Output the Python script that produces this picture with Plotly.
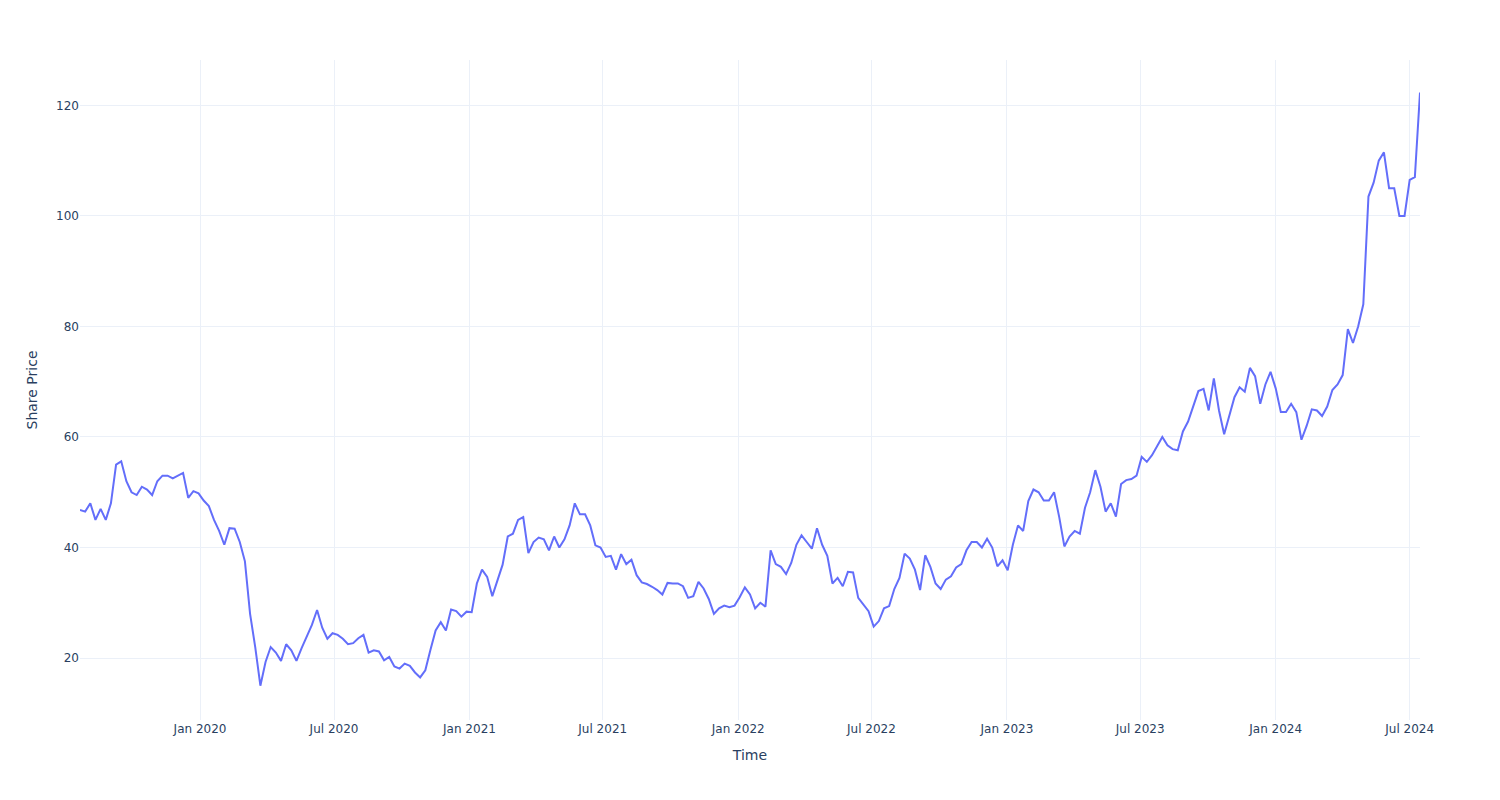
import pandas as pd
import plotly.graph_objects as go

start_date = "2019-07-22"
week_step = "7D"

share_price = [
    46.8, 46.5, 48.0, 45.0, 47.0, 45.0, 48.0, 55.0, 55.6, 52.0,
    50.0, 49.5, 51.0, 50.5, 49.5, 52.0, 53.0, 53.0, 52.5, 53.0,
    53.5, 49.0, 50.2, 49.8, 48.5, 47.5, 45.0, 43.0, 40.5, 43.5,
    43.4, 41.0, 37.5, 28.0, 22.0, 15.0, 19.3, 22.0, 21.0, 19.5,
    22.5, 21.4, 19.5, 21.8, 24.0, 26.0, 28.7, 25.5, 23.5, 24.5,
    24.2, 23.5, 22.5, 22.7, 23.6, 24.2, 21.0, 21.4, 21.2, 19.6,
    20.2, 18.5, 18.1, 19.0, 18.6, 17.4, 16.5, 17.8, 21.5, 25.0,
    26.5, 25.0, 28.8, 28.5, 27.5, 28.4, 28.3, 33.5, 36.0, 34.7,
    31.2, 34.0, 36.9, 42.0, 42.5, 45.0, 45.5, 39.0, 41.0, 41.8,
    41.5, 39.5, 42.0, 40.0, 41.5, 44.0, 48.0, 46.0, 46.0, 44.0,
    40.4, 40.0, 38.3, 38.5, 36.0, 38.8, 37.0, 37.8, 35.0, 33.7,
    33.4, 32.9, 32.3, 31.5, 33.6, 33.5, 33.5, 33.0, 30.9, 31.2,
    33.8, 32.6, 30.7, 28.0, 29.0, 29.5, 29.2, 29.5, 31.0, 32.8,
    31.5, 29.0, 30.0, 29.3, 39.5, 37.0, 36.5, 35.2, 37.2, 40.5,
    42.2, 41.0, 39.8, 43.5, 40.5, 38.5, 33.5, 34.5, 33.0, 35.6,
    35.5, 30.9, 29.8, 28.5, 25.7, 26.7, 29.0, 29.4, 32.5, 34.5,
    38.9, 38.0, 36.0, 32.3, 38.6, 36.5, 33.5, 32.5, 34.2, 34.8,
    36.4, 37.0, 39.5, 41.0, 41.0, 40.0, 41.6, 40.0, 36.6, 37.7,
    35.9, 40.5, 44.0, 43.0, 48.4, 50.5, 50.0, 48.5, 48.5, 50.0,
    45.5, 40.2, 42.0, 43.0, 42.5, 47.2, 50.0, 54.0, 51.0, 46.5,
    48.0, 45.6, 51.5, 52.2, 52.4, 53.0, 56.4, 55.5, 56.7, 58.3,
    60.0, 58.5, 57.8, 57.6, 61.0, 62.8, 65.5, 68.3, 68.7, 64.8,
    70.6, 64.8, 60.5, 64.0, 67.2, 69.0, 68.2, 72.5, 71.0, 66.0,
    69.5, 71.8, 68.8, 64.5, 64.5, 66.0, 64.5, 59.5, 62.0, 65.0,
    64.8, 63.8, 65.5, 68.5, 69.5, 71.2, 79.5, 77.0, 80.0, 84.0,
    103.5, 106.0, 110.0, 111.5, 105.0, 105.0, 100.0, 100.0, 106.5, 107.0,
    122.3,
]

dates = pd.date_range(start_date, periods=len(share_price), freq=week_step)

fig = go.Figure(
    go.Scatter(
        x=dates,
        y=share_price,
        mode="lines",
        line=dict(color="#636efa", width=2),
        name="Share Price",
    )
)

fig.update_layout(
    template="plotly_white",
    width=1500,
    height=800,
    font=dict(family="DejaVu Sans", color="#2a3f5f"),
    margin=dict(l=80, r=80, t=60, b=80),
    showlegend=False,
    xaxis=dict(title=dict(text="Time")),
    yaxis=dict(title=dict(text="Share Price"), range=[8.8, 128.2]),
)

fig.write_html("out.html")
